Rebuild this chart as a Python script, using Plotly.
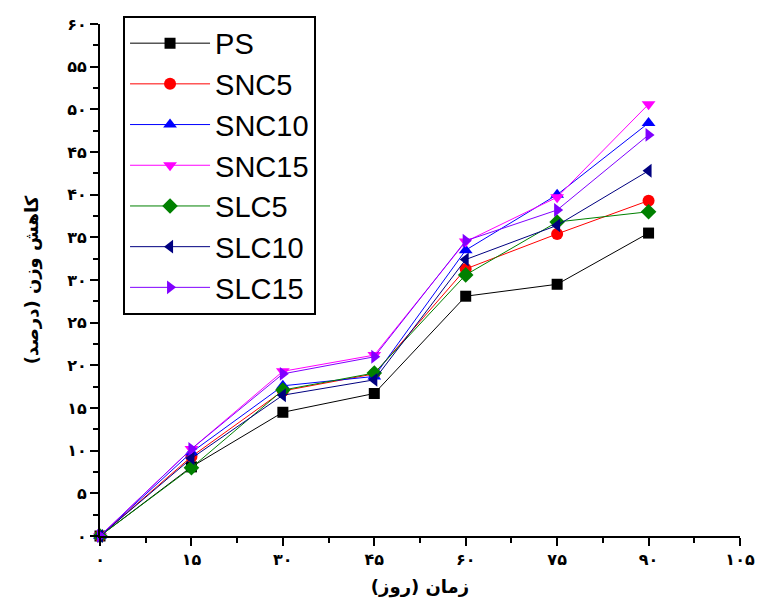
import plotly.graph_objects as go

# Storage time (days)
days = [0, 15, 30, 45, 60, 75, 90]

# Weight loss (%) for each sample
ps = [0, 8.1, 14.5, 16.7, 28.1, 29.5, 35.5]
snc5 = [0, 9.3, 17.0, 19.0, 31.3, 35.4, 39.3]
snc10 = [0, 9.8, 17.6, 18.7, 33.5, 40.0, 48.4]
snc15 = [0, 10.2, 19.3, 21.2, 34.5, 39.7, 50.6]
slc5 = [0, 8.0, 17.1, 19.1, 30.6, 36.8, 38.0]
slc10 = [0, 9.1, 16.5, 18.3, 32.4, 36.4, 42.8]
slc15 = [0, 10.2, 19.0, 21.0, 34.6, 38.2, 47.0]

series_names = ["PS", "SNC5", "SNC10", "SNC15", "SLC5", "SLC10", "SLC15"]
series_values = [ps, snc5, snc10, snc15, slc5, slc10, slc15]
colors = ["#000000", "#FF0000", "#0000FF", "#FF00FF", "#008000", "#000080", "#8000FF"]
symbols = ["square", "circle", "triangle-up", "triangle-down", "diamond",
           "triangle-left", "triangle-right"]

x_ticks = [0, 15, 30, 45, 60, 75, 90, 105]
y_ticks = list(range(0, 61, 5))

PERSIAN = str.maketrans("0123456789", "۰۱۲۳۴۵۶۷۸۹")


def fa(n):
    return "<b>" + str(n).translate(PERSIAN) + "</b>"


fig = go.Figure()
for name, vals, col, sym in zip(series_names, series_values, colors, symbols):
    fig.add_trace(go.Scatter(
        x=days, y=vals, name=name, mode="lines+markers",
        line=dict(color=col, width=1),
        marker=dict(color=col, symbol=sym, size=12 if sym != "square" else 11,
                    line=dict(width=0)),
        cliponaxis=False,
    ))

axis_common = dict(
    showline=True, linecolor="black", linewidth=2,
    ticks="outside", ticklen=8, tickwidth=2, tickcolor="black",
    showgrid=False, zeroline=False, mirror=False, automargin=False,
    tickfont=dict(family="DejaVu Sans", size=16, color="black"),
)

fig.update_xaxes(
    range=[0, 105], tickvals=x_ticks, ticktext=[fa(v) for v in x_ticks],
    minor=dict(ticks="outside", dtick=7.5, tick0=0, ticklen=5, tickwidth=2,
               tickcolor="black"),
    title=dict(text="<b>زمان (روز)</b>", standoff=12,
               font=dict(family="DejaVu Sans", size=18, color="black")),
    **axis_common,
)
fig.update_yaxes(
    range=[0, 60], tickvals=y_ticks, ticktext=[fa(v) for v in y_ticks],
    minor=dict(ticks="outside", dtick=2.5, tick0=0, ticklen=5, tickwidth=2,
               tickcolor="black"),
    title=dict(text="<b>کاهش وزن (درصد)</b>", standoff=24,
               font=dict(family="DejaVu Sans", size=18, color="black")),
    **axis_common,
)

fig.update_layout(
    width=759, height=601,
    margin=dict(l=100, r=19, t=24, b=65),
    plot_bgcolor="white", paper_bgcolor="white",
    legend=dict(
        x=0.036, y=1.016, xanchor="left", yanchor="top",
        bordercolor="black", borderwidth=2, bgcolor="white",
        font=dict(family="Arial", size=29, color="black"),
        itemwidth=80, tracegroupgap=0,
    ),
)

fig.write_html("out.html")
